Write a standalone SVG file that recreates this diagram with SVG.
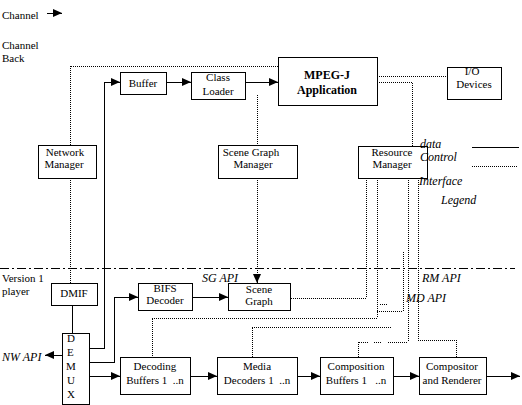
<svg xmlns="http://www.w3.org/2000/svg" width="522" height="405" viewBox="0 0 522 405">
<style>
text{font-family:'Liberation Serif','DejaVu Serif',serif;font-size:11px;fill:#000}
.c{text-anchor:middle}
.b{font-weight:bold;font-size:12px}
.i{font-style:italic;font-size:12px}
rect{fill:#fff;stroke:#000;stroke-width:1;shape-rendering:crispEdges}
.s{fill:none;stroke:#000;stroke-width:1;shape-rendering:crispEdges}
.d{fill:none;stroke:#000;stroke-width:1;stroke-dasharray:1 1;shape-rendering:crispEdges}
.dd{fill:none;stroke:#000;stroke-width:1;stroke-dasharray:9 3 2 3;shape-rendering:crispEdges}
</style>
<defs>
<marker id="ah" markerUnits="userSpaceOnUse" markerWidth="10" markerHeight="9" refX="9" refY="4" orient="auto">
<path d="M0,0 L9,4 L0,8 z" fill="#000"/>
</marker>
</defs>
<g id="connectors">
<path class="dd" d="M0,268 H515"/>
<path class="s" d="M47,13 H62" marker-end="url(#ah)"/>
<path class="s" d="M472,147 H519"/>
<path class="d" d="M472,166 H518"/>
<path class="s" d="M89,348 H104 V82 H120" marker-end="url(#ah)"/>
<path class="s" d="M166,82 H191" marker-end="url(#ah)"/>
<path class="s" d="M245,82 H278" marker-end="url(#ah)"/>
<path class="s" d="M72,305 V333"/>
<path class="s" d="M89,362 H114 V297 H138" marker-end="url(#ah)"/>
<path class="s" d="M192,297 H228" marker-end="url(#ah)"/>
<path class="s" d="M89,376 H120" marker-end="url(#ah)"/>
<path class="s" d="M190,376 H217" marker-end="url(#ah)"/>
<path class="s" d="M297,376 H320" marker-end="url(#ah)"/>
<path class="s" d="M393,376 H419" marker-end="url(#ah)"/>
<path class="s" d="M486,376 H520" marker-end="url(#ah)"/>
<path class="s" d="M62,355 H45" marker-end="url(#ah)"/>
<path class="d" d="M70,145 V66 H278"/>
<path class="d" d="M70,178 V283"/>
<path class="d" d="M257,95 V145"/>
<path class="d" d="M257,178 V276"/>
<path class="s" d="M257,276 V283" marker-end="url(#ah)"/>
<path class="d" d="M377,76 H447"/>
<path class="d" d="M377,82 H412 V146"/>
<path class="d" d="M366,178 V298 H290"/>
<path class="d" d="M377,178 V318 H152 V357"/>
<path class="d" d="M380,304 H387"/>
<path class="d" d="M377,311 H403 V252"/>
<path class="d" d="M252,357 V327 H391"/>
<path class="d" d="M408,178 V342"/>
<path class="d" d="M358,357 V342 H368 M374,342 H382 M388,342 H408"/>
<path class="d" d="M418,178 V340 H456 V357"/>
</g>
<g id="buffer"><rect x="120" y="72" width="46" height="22"/><text class="c" x="143" y="87">Buffer</text></g>
<g id="class-loader"><rect x="191" y="72" width="54" height="27"/><text class="c" x="218" y="81">Class</text><text class="c" x="218" y="95">Loader</text></g>
<g id="mpegj-app"><rect x="278" y="57" width="99" height="48"/><text class="c b" x="327" y="79">MPEG-J</text><text class="c b" x="327" y="94">Application</text></g>
<g id="io-devices"><rect x="447" y="67" width="54" height="32"/><text class="c" x="472" y="75">I/O</text><text class="c" x="474" y="88">Devices</text></g>
<g id="network-manager"><rect x="38" y="145" width="58" height="33"/><text class="c" x="65" y="156">Network</text><text class="c" x="64" y="168">Manager</text></g>
<g id="scene-graph-manager"><rect x="218" y="145" width="79" height="33"/><text class="c" x="251" y="156">Scene Graph</text><text class="c" x="253" y="168">Manager</text></g>
<g id="resource-manager"><rect x="358" y="146" width="69" height="32"/><text class="c" x="392" y="156">Resource</text><text class="c" x="392" y="168">Manager</text></g>
<g id="dmif"><rect x="51" y="283" width="46" height="22"/><text class="c" x="74" y="297">DMIF</text></g>
<g id="demux"><rect x="62" y="333" width="27" height="71"/>
<text x="67" y="342">D</text><text x="67" y="356">E</text><text x="66" y="370">M</text><text x="67" y="384">U</text><text x="67" y="398">X</text></g>
<g id="bifs-decoder"><rect x="138" y="283" width="54" height="27"/><text class="c" x="165" y="292">BIFS</text><text class="c" x="165" y="304">Decoder</text></g>
<g id="scene-graph"><rect x="228" y="283" width="62" height="27"/><text class="c" x="259" y="293">Scene</text><text class="c" x="259" y="305">Graph</text></g>
<g id="decoding-buffers"><rect x="120" y="357" width="70" height="37"/><text class="c" x="155" y="370">Decoding</text><text class="c" x="155" y="384" xml:space="preserve">Buffers 1  ..n</text></g>
<g id="media-decoders"><rect x="217" y="357" width="80" height="37"/><text class="c" x="257" y="370">Media</text><text class="c" x="257" y="384" xml:space="preserve">Decoders 1  ..n</text></g>
<g id="composition-buffers"><rect x="320" y="357" width="73" height="37"/><text class="c" x="356" y="370">Composition</text><text class="c" x="356" y="384" xml:space="preserve">Buffers 1   ..n</text></g>
<g id="compositor"><rect x="419" y="357" width="67" height="37"/><text class="c" x="452" y="370">Compositor</text><text class="c" x="452" y="384">and Renderer</text></g>
<g id="legend-texts">
<text x="2" y="19">Channel</text>
<text x="2" y="49">Channel</text>
<text x="2" y="62">Back</text>
<text x="2" y="282">Version 1</text>
<text x="2" y="295">player</text>
<text class="i" x="2" y="361">NW API</text>
<text class="i" x="202" y="282">SG API</text>
<text class="i" x="422" y="282">RM API</text>
<text class="i" x="406" y="302">MD API</text>
<text class="i" x="420" y="148">data</text>
<text class="i" x="420" y="161">Control</text>
<text class="i" x="419" y="185">Interface</text>
<text class="i" x="441" y="204">Legend</text>
</g>
</svg>
